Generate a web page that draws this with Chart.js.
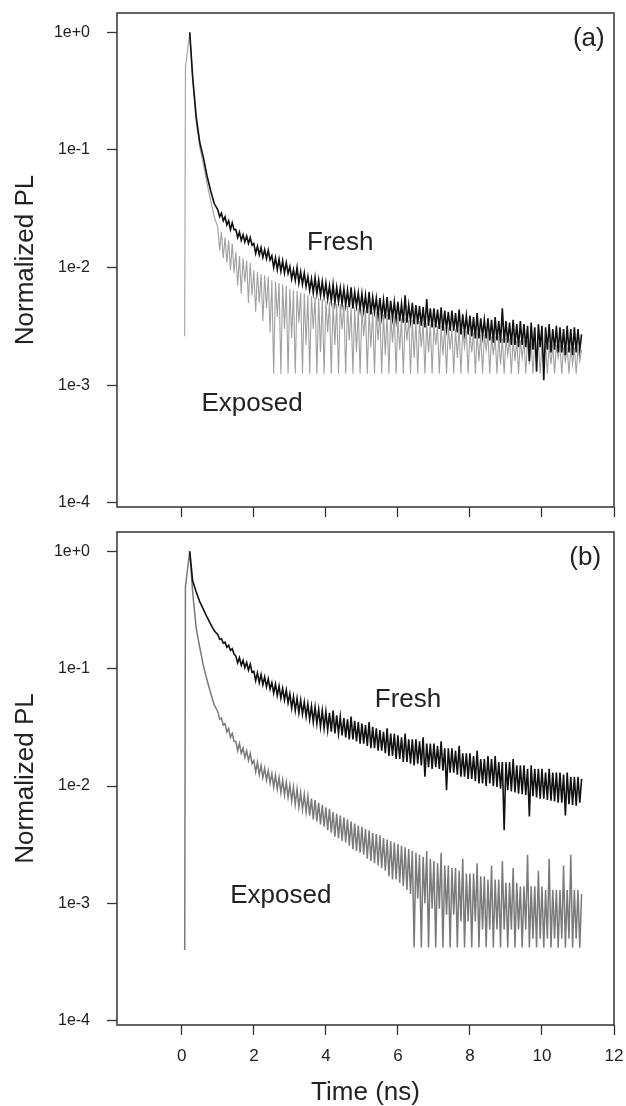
<!DOCTYPE html>
<html>
<head>
<meta charset="utf-8">
<script src="https://cdn.jsdelivr.net/npm/chart.js@4.4.0/dist/chart.umd.min.js"></script>
<style>
  body { margin: 0; background: #fff; }
  #wrap { position: relative; width: 626px; height: 1106px; }
  canvas { position: absolute; left: 0; }
  #chartA { top: 0; }
  #chartB { top: 520px; }
</style>
</head>
<body>
<div id="wrap">
  <canvas id="chartA" width="626" height="520"></canvas>
  <canvas id="chartB" width="626" height="586"></canvas>
</div>
<script>
// time base (ns), shared by all four traces
const timeNs = [
  0.08, 0.1, 0.22, 0.3, 0.4, 0.5, 0.6, 0.7, 0.8, 0.9,
  1.0, 1.05, 1.1, 1.15, 1.2, 1.25, 1.3, 1.35, 1.4, 1.45,
  1.5, 1.55, 1.6, 1.65, 1.7, 1.75, 1.8, 1.85, 1.9, 1.95,
  2.0, 2.05, 2.1, 2.15, 2.2, 2.25, 2.3, 2.35, 2.4, 2.45,
  2.5, 2.55, 2.6, 2.65, 2.7, 2.75, 2.8, 2.85, 2.9, 2.95,
  3.0, 3.05, 3.1, 3.15, 3.2, 3.25, 3.3, 3.35, 3.4, 3.45,
  3.5, 3.55, 3.6, 3.65, 3.7, 3.75, 3.8, 3.85, 3.9, 3.95,
  4.0, 4.05, 4.1, 4.15, 4.2, 4.25, 4.3, 4.35, 4.4, 4.45,
  4.5, 4.55, 4.6, 4.65, 4.7, 4.75, 4.8, 4.85, 4.9, 4.95,
  5.0, 5.05, 5.1, 5.15, 5.2, 5.25, 5.3, 5.35, 5.4, 5.45,
  5.5, 5.55, 5.6, 5.65, 5.7, 5.75, 5.8, 5.85, 5.9, 5.95,
  6.0, 6.05, 6.1, 6.15, 6.2, 6.25, 6.3, 6.35, 6.4, 6.45,
  6.5, 6.55, 6.6, 6.65, 6.7, 6.75, 6.8, 6.85, 6.9, 6.95,
  7.0, 7.05, 7.1, 7.15, 7.2, 7.25, 7.3, 7.35, 7.4, 7.45,
  7.5, 7.55, 7.6, 7.65, 7.7, 7.75, 7.8, 7.85, 7.9, 7.95,
  8.0, 8.05, 8.1, 8.15, 8.2, 8.25, 8.3, 8.35, 8.4, 8.45,
  8.5, 8.55, 8.6, 8.65, 8.7, 8.75, 8.8, 8.85, 8.9, 8.95,
  9.0, 9.05, 9.1, 9.15, 9.2, 9.25, 9.3, 9.35, 9.4, 9.45,
  9.5, 9.55, 9.6, 9.65, 9.7, 9.75, 9.8, 9.85, 9.9, 9.95,
  10.0, 10.05, 10.1, 10.15, 10.2, 10.25, 10.3, 10.35, 10.4, 10.45,
  10.5, 10.55, 10.6, 10.65, 10.7, 10.75, 10.8, 10.85, 10.9, 10.95,
  11.0, 11.05, 11.1
];

// panel (a)
const freshA = [
  null, null, 1.0, 0.42, 0.19, 0.115, 0.086, 0.060, 0.045, 0.035,
  0.031, 0.027, 0.029, 0.025, 0.027, 0.023, 0.025, 0.021, 0.024, 0.021,
  0.021, 0.018, 0.020, 0.017, 0.019, 0.0165, 0.0185, 0.016, 0.018, 0.0155,
  0.0160, 0.0132, 0.0152, 0.0128, 0.0148, 0.0122, 0.0142, 0.0119, 0.0140, 0.0116,
  0.0126, 0.0100, 0.0121, 0.0096, 0.0118, 0.0093, 0.0114, 0.0090, 0.0110, 0.0089,
  0.0102, 0.0080, 0.0096, 0.0078, 0.0100, 0.0074, 0.0092, 0.0072, 0.0090, 0.0069,
  0.0084, 0.0064, 0.0080, 0.0061, 0.0082, 0.0060, 0.0078, 0.0058, 0.0076, 0.0057,
  0.0074, 0.0054, 0.0070, 0.0052, 0.0072, 0.0050, 0.0068, 0.0051, 0.0067, 0.0049,
  0.0066, 0.0048, 0.0064, 0.0046, 0.0068, 0.0045, 0.0062, 0.0047, 0.0061, 0.0044,
  0.0060, 0.0043, 0.0058, 0.0041, 0.0062, 0.0040, 0.0056, 0.0042, 0.0055, 0.0039,
  0.0055, 0.0038, 0.0053, 0.0037, 0.0056, 0.0036, 0.0052, 0.0037, 0.0051, 0.0036,
  0.0051, 0.0035, 0.0049, 0.0034, 0.0058, 0.0034, 0.0048, 0.0035, 0.0050, 0.0033,
  0.0048, 0.0033, 0.0047, 0.0032, 0.0046, 0.0031, 0.0054, 0.0032, 0.0045, 0.0031,
  0.0045, 0.0031, 0.0044, 0.0030, 0.0046, 0.0029, 0.0043, 0.0030, 0.0042, 0.0029,
  0.0043, 0.0029, 0.0041, 0.0028, 0.0044, 0.0027, 0.0040, 0.0028, 0.0039, 0.0027,
  0.0039, 0.0026, 0.0038, 0.0025, 0.0041, 0.0025, 0.0037, 0.0026, 0.0036, 0.0025,
  0.0037, 0.0024, 0.0036, 0.0023, 0.0038, 0.0024, 0.0035, 0.0023, 0.0045, 0.0023,
  0.0035, 0.0023, 0.0034, 0.0022, 0.0036, 0.0022, 0.0033, 0.0021, 0.0035, 0.0022,
  0.0033, 0.0021, 0.0032, 0.0016, 0.0034, 0.0020, 0.0031, 0.0013, 0.0033, 0.0021,
  0.0032, 0.0011, 0.0031, 0.0020, 0.0033, 0.0019, 0.0030, 0.0020, 0.0032, 0.0019,
  0.0031, 0.0019, 0.0030, 0.0018, 0.0032, 0.0019, 0.0030, 0.0018, 0.0031, 0.0019,
  0.0030, 0.0020, 0.0027
];
const exposedA = [
  0.0026, 0.5, 1.0, 0.40, 0.17, 0.105, 0.075, 0.052, 0.037, 0.027,
  0.022, 0.014, 0.020, 0.012, 0.018, 0.011, 0.017, 0.0095, 0.016, 0.009,
  0.0135, 0.0070, 0.0125, 0.0060, 0.0120, 0.0075, 0.0115, 0.0050, 0.0110, 0.0058,
  0.0095, 0.0042, 0.0092, 0.0050, 0.0088, 0.0035, 0.0086, 0.0045, 0.0084, 0.0028,
  0.0078, 0.00125, 0.0076, 0.0038, 0.0074, 0.00125, 0.0072, 0.0030, 0.0070, 0.00125,
  0.0066, 0.0025, 0.0064, 0.00125, 0.0063, 0.0034, 0.0061, 0.00125, 0.0060, 0.0022,
  0.0058, 0.00125, 0.0057, 0.0030, 0.0056, 0.00125, 0.0055, 0.0019, 0.0054, 0.00125,
  0.0052, 0.0028, 0.0051, 0.00125, 0.0050, 0.0022, 0.0049, 0.00125, 0.0049, 0.0030,
  0.0048, 0.00125, 0.0047, 0.0024, 0.0046, 0.00125, 0.0046, 0.0019, 0.0045, 0.00125,
  0.0044, 0.0026, 0.0043, 0.00125, 0.0043, 0.0021, 0.0042, 0.00125, 0.0042, 0.0024,
  0.0041, 0.00125, 0.0040, 0.0018, 0.0040, 0.00125, 0.0039, 0.0023, 0.0039, 0.00125,
  0.0038, 0.0020, 0.0037, 0.00125, 0.0037, 0.0024, 0.0036, 0.00125, 0.0036, 0.0017,
  0.0035, 0.00125, 0.0035, 0.0021, 0.0034, 0.00125, 0.0034, 0.0019, 0.0033, 0.00125,
  0.0033, 0.0022, 0.0032, 0.00125, 0.0032, 0.0018, 0.0031, 0.00125, 0.0031, 0.0020,
  0.0030, 0.00125, 0.0030, 0.0017, 0.0030, 0.00125, 0.0029, 0.0021, 0.0029, 0.00125,
  0.0028, 0.0019, 0.0028, 0.00125, 0.0028, 0.0016, 0.0027, 0.00125, 0.0027, 0.0020,
  0.0027, 0.00125, 0.0026, 0.0018, 0.0026, 0.00125, 0.0026, 0.0015, 0.0025, 0.00125,
  0.0025, 0.0018, 0.0025, 0.00125, 0.0025, 0.0016, 0.0024, 0.00125, 0.0024, 0.0017,
  0.0024, 0.00125, 0.0024, 0.0015, 0.0023, 0.00125, 0.0023, 0.0017, 0.0023, 0.00125,
  0.0023, 0.0016, 0.0022, 0.00125, 0.0022, 0.0015, 0.0022, 0.00125, 0.0022, 0.0017,
  0.0022, 0.00125, 0.0021, 0.0016, 0.0021, 0.00125, 0.0021, 0.0015, 0.0021, 0.00125,
  0.0021, 0.0016, 0.0020
];

// panel (b)
const freshB = [
  null, null, 1.0, 0.56, 0.45, 0.37, 0.32, 0.275, 0.24, 0.21,
  0.195, 0.178, 0.180, 0.165, 0.168, 0.152, 0.158, 0.143, 0.148, 0.133,
  0.128, 0.112, 0.124, 0.107, 0.118, 0.102, 0.113, 0.097, 0.109, 0.093,
  0.095, 0.079, 0.092, 0.076, 0.089, 0.073, 0.085, 0.070, 0.082, 0.067,
  0.076, 0.062, 0.074, 0.059, 0.071, 0.056, 0.068, 0.054, 0.066, 0.051,
  0.061, 0.046, 0.058, 0.044, 0.056, 0.042, 0.054, 0.041, 0.052, 0.039,
  0.050, 0.037, 0.048, 0.035, 0.047, 0.034, 0.045, 0.032, 0.044, 0.031,
  0.043, 0.030, 0.042, 0.029, 0.044, 0.028, 0.040, 0.028, 0.039, 0.027,
  0.038, 0.026, 0.037, 0.025, 0.039, 0.025, 0.036, 0.024, 0.035, 0.023,
  0.034, 0.023, 0.033, 0.022, 0.035, 0.021, 0.032, 0.021, 0.031, 0.020,
  0.030, 0.020, 0.029, 0.019, 0.031, 0.018, 0.028, 0.018, 0.028, 0.017,
  0.027, 0.017, 0.026, 0.016, 0.028, 0.016, 0.025, 0.0155, 0.025, 0.015,
  0.025, 0.0155, 0.024, 0.015, 0.026, 0.012, 0.023, 0.0145, 0.023, 0.014,
  0.023, 0.0145, 0.022, 0.014, 0.024, 0.0135, 0.021, 0.0092, 0.021, 0.013,
  0.021, 0.013, 0.020, 0.0125, 0.022, 0.012, 0.019, 0.012, 0.019, 0.0115,
  0.019, 0.0115, 0.018, 0.011, 0.020, 0.0105, 0.017, 0.0105, 0.017, 0.010,
  0.018, 0.0105, 0.017, 0.010, 0.018, 0.0098, 0.016, 0.0095, 0.016, 0.0042,
  0.016, 0.0092, 0.016, 0.009, 0.017, 0.0088, 0.015, 0.0086, 0.015, 0.0085,
  0.015, 0.0084, 0.014, 0.0055, 0.015, 0.0082, 0.014, 0.008, 0.014, 0.0078,
  0.014, 0.0078, 0.013, 0.0076, 0.014, 0.0075, 0.013, 0.0074, 0.013, 0.0072,
  0.013, 0.0072, 0.0125, 0.0056, 0.013, 0.007, 0.012, 0.0069, 0.012, 0.0068,
  0.012, 0.0072, 0.0115
];
const exposedB = [
  0.0004, 0.5, 1.0, 0.45, 0.22, 0.15, 0.105, 0.08, 0.062, 0.049,
  0.043, 0.037, 0.038, 0.033, 0.034, 0.029, 0.031, 0.026, 0.028, 0.024,
  0.024, 0.020, 0.023, 0.019, 0.021, 0.0175, 0.020, 0.0165, 0.019, 0.0155,
  0.0165, 0.0132, 0.016, 0.0125, 0.015, 0.0118, 0.0142, 0.0112, 0.0135, 0.0106,
  0.0128, 0.0098, 0.0124, 0.0094, 0.0118, 0.0088, 0.0112, 0.0084, 0.0108, 0.0080,
  0.0102, 0.0074, 0.0098, 0.0070, 0.0094, 0.0066, 0.0088, 0.0063, 0.0085, 0.0060,
  0.0082, 0.0056, 0.0078, 0.0052, 0.0076, 0.0050, 0.0072, 0.0047, 0.0069, 0.0045,
  0.0066, 0.0042, 0.0064, 0.0040, 0.0060, 0.0037, 0.0058, 0.0036, 0.0056, 0.0034,
  0.0054, 0.0033, 0.0052, 0.0031, 0.0050, 0.0029, 0.0048, 0.0028, 0.0046, 0.0027,
  0.0045, 0.0026, 0.0043, 0.0024, 0.0042, 0.0023, 0.0040, 0.0022, 0.0039, 0.0021,
  0.0038, 0.0020, 0.0036, 0.0019, 0.0035, 0.0017, 0.0034, 0.0016, 0.0033, 0.0016,
  0.0032, 0.0015, 0.0031, 0.0014, 0.0030, 0.0013, 0.0029, 0.0012, 0.0028, 0.00042,
  0.0027, 0.0011, 0.0026, 0.00042, 0.0025, 0.0010, 0.0028, 0.00042, 0.0024, 0.0009,
  0.0023, 0.00042, 0.0022, 0.0009, 0.0027, 0.00042, 0.0021, 0.0008, 0.0021, 0.00042,
  0.0020, 0.0008, 0.0020, 0.00042, 0.0019, 0.0007, 0.0024, 0.00042, 0.0018, 0.0007,
  0.0018, 0.00042, 0.0018, 0.0007, 0.0022, 0.00042, 0.0017, 0.0006, 0.0017, 0.00042,
  0.0016, 0.0006, 0.0021, 0.00042, 0.0016, 0.0006, 0.0016, 0.00042, 0.0023, 0.0006,
  0.0015, 0.00042, 0.0015, 0.0006, 0.0020, 0.00042, 0.0015, 0.0006, 0.0014, 0.00042,
  0.0014, 0.0006, 0.0026, 0.00042, 0.0014, 0.0005, 0.0014, 0.00042, 0.0019, 0.0005,
  0.0014, 0.00042, 0.0013, 0.0005, 0.0024, 0.00042, 0.0013, 0.0005, 0.0013, 0.00042,
  0.0013, 0.0005, 0.0021, 0.00042, 0.0013, 0.0005, 0.0026, 0.00042, 0.0013, 0.0005,
  0.0013, 0.00042, 0.0012
];

// axes
const xTicks = [0, 2, 4, 6, 8, 10, 12];
const xTickLabels = ['0', '2', '4', '6', '8', '10', '12'];
const yTicks = [1e-4, 1e-3, 1e-2, 1e-1, 1];
const yTickLabels = ['1e-4', '1e-3', '1e-2', '1e-1', '1e+0'];

// text placed inside each panel, in data units (ns, PL)
const notesA = [
  { text: '(a)', t: 11.3, v: 0.76 },
  { text: 'Fresh', t: 4.4, v: 0.0142 },
  { text: 'Exposed', t: 1.95, v: 0.0006 }
];
const notesB = [
  { text: '(b)', t: 11.2, v: 0.77 },
  { text: 'Fresh', t: 6.28, v: 0.047 },
  { text: 'Exposed', t: 2.75, v: 0.001 }
];

const FONT = '"Liberation Sans", Arial, sans-serif';
const INK = '#222';

function makePanel(id, fresh, exposed, greyColor, greyWidth, notes, showX) {
  const toPts = s => timeNs.map((t, i) => ({ x: t, y: s[i] }));

  // box around the plot area and the in-plot labels
  const boxAndNotes = {
    id: 'boxAndNotes',
    afterDraw(chart) {
      const { ctx, chartArea: a, scales } = chart;
      ctx.save();
      ctx.strokeStyle = '#333';
      ctx.lineWidth = 1.5;
      ctx.strokeRect(a.left, a.top, a.right - a.left, a.bottom - a.top);
      ctx.fillStyle = INK;
      ctx.font = '26px ' + FONT;
      ctx.textAlign = 'center';
      ctx.textBaseline = 'alphabetic';
      notes.forEach(n => {
        ctx.fillText(n.text, scales.x.getPixelForValue(n.t), scales.y.getPixelForValue(n.v));
      });
      ctx.restore();
    }
  };

  return new Chart(document.getElementById(id), {
    type: 'line',
    data: {
      datasets: [
        { label: 'Fresh', data: toPts(fresh), borderColor: '#111111', borderWidth: 1.6 },
        { label: 'Exposed', data: toPts(exposed), borderColor: greyColor, borderWidth: greyWidth }
      ]
    },
    options: {
      responsive: false,
      animation: false,
      devicePixelRatio: 1,
      elements: { point: { radius: 0 }, line: { tension: 0 } },
      layout: { padding: { left: 0, right: 12, top: showX ? 12 : 13, bottom: 0 } },
      plugins: { legend: { display: false }, tooltip: { enabled: false } },
      scales: {
        x: {
          type: 'linear',
          min: -1.8,
          max: 12,
          afterBuildTicks: s => { s.ticks = xTicks.map(v => ({ value: v })); },
          afterFit: s => { s.height = showX ? 81 : 13; s.paddingLeft = 0; s.paddingRight = 0; },
          border: { display: false },
          grid: { drawOnChartArea: false, tickLength: 10, tickColor: '#333', tickWidth: 1.3 },
          ticks: {
            display: showX,
            color: INK,
            padding: 11,
            font: { family: FONT, size: 17 },
            callback: v => xTickLabels[xTicks.indexOf(v)]
          },
          title: {
            display: showX,
            text: 'Time (ns)',
            color: INK,
            font: { family: FONT, size: 26, lineHeight: 1 },
            padding: { top: 0, bottom: 0 }
          }
        },
        y: {
          type: 'logarithmic',
          min: 9.2e-5,
          max: 1.46,
          afterBuildTicks: s => { s.ticks = yTicks.map(v => ({ value: v })); },
          afterFit: s => { s.width = 117; s.paddingTop = 0; s.paddingBottom = 0; },
          border: { display: false },
          grid: { drawOnChartArea: false, tickLength: 10, tickColor: '#333', tickWidth: 1.3 },
          ticks: {
            color: INK,
            padding: 17,
            font: { family: FONT, size: 16 },
            callback: v => yTickLabels[yTicks.indexOf(v)]
          },
          title: {
            display: true,
            text: 'Normalized PL',
            color: INK,
            font: { family: FONT, size: 26, lineHeight: 1 },
            padding: { top: 13, bottom: 0 }
          }
        }
      }
    },
    plugins: [boxAndNotes]
  });
}

makePanel('chartA', freshA, exposedA, '#a0a0a0', 1.1, notesA, false);
makePanel('chartB', freshB, exposedB, '#7a7a7a', 1.5, notesB, true);
</script>
</body>
</html>
